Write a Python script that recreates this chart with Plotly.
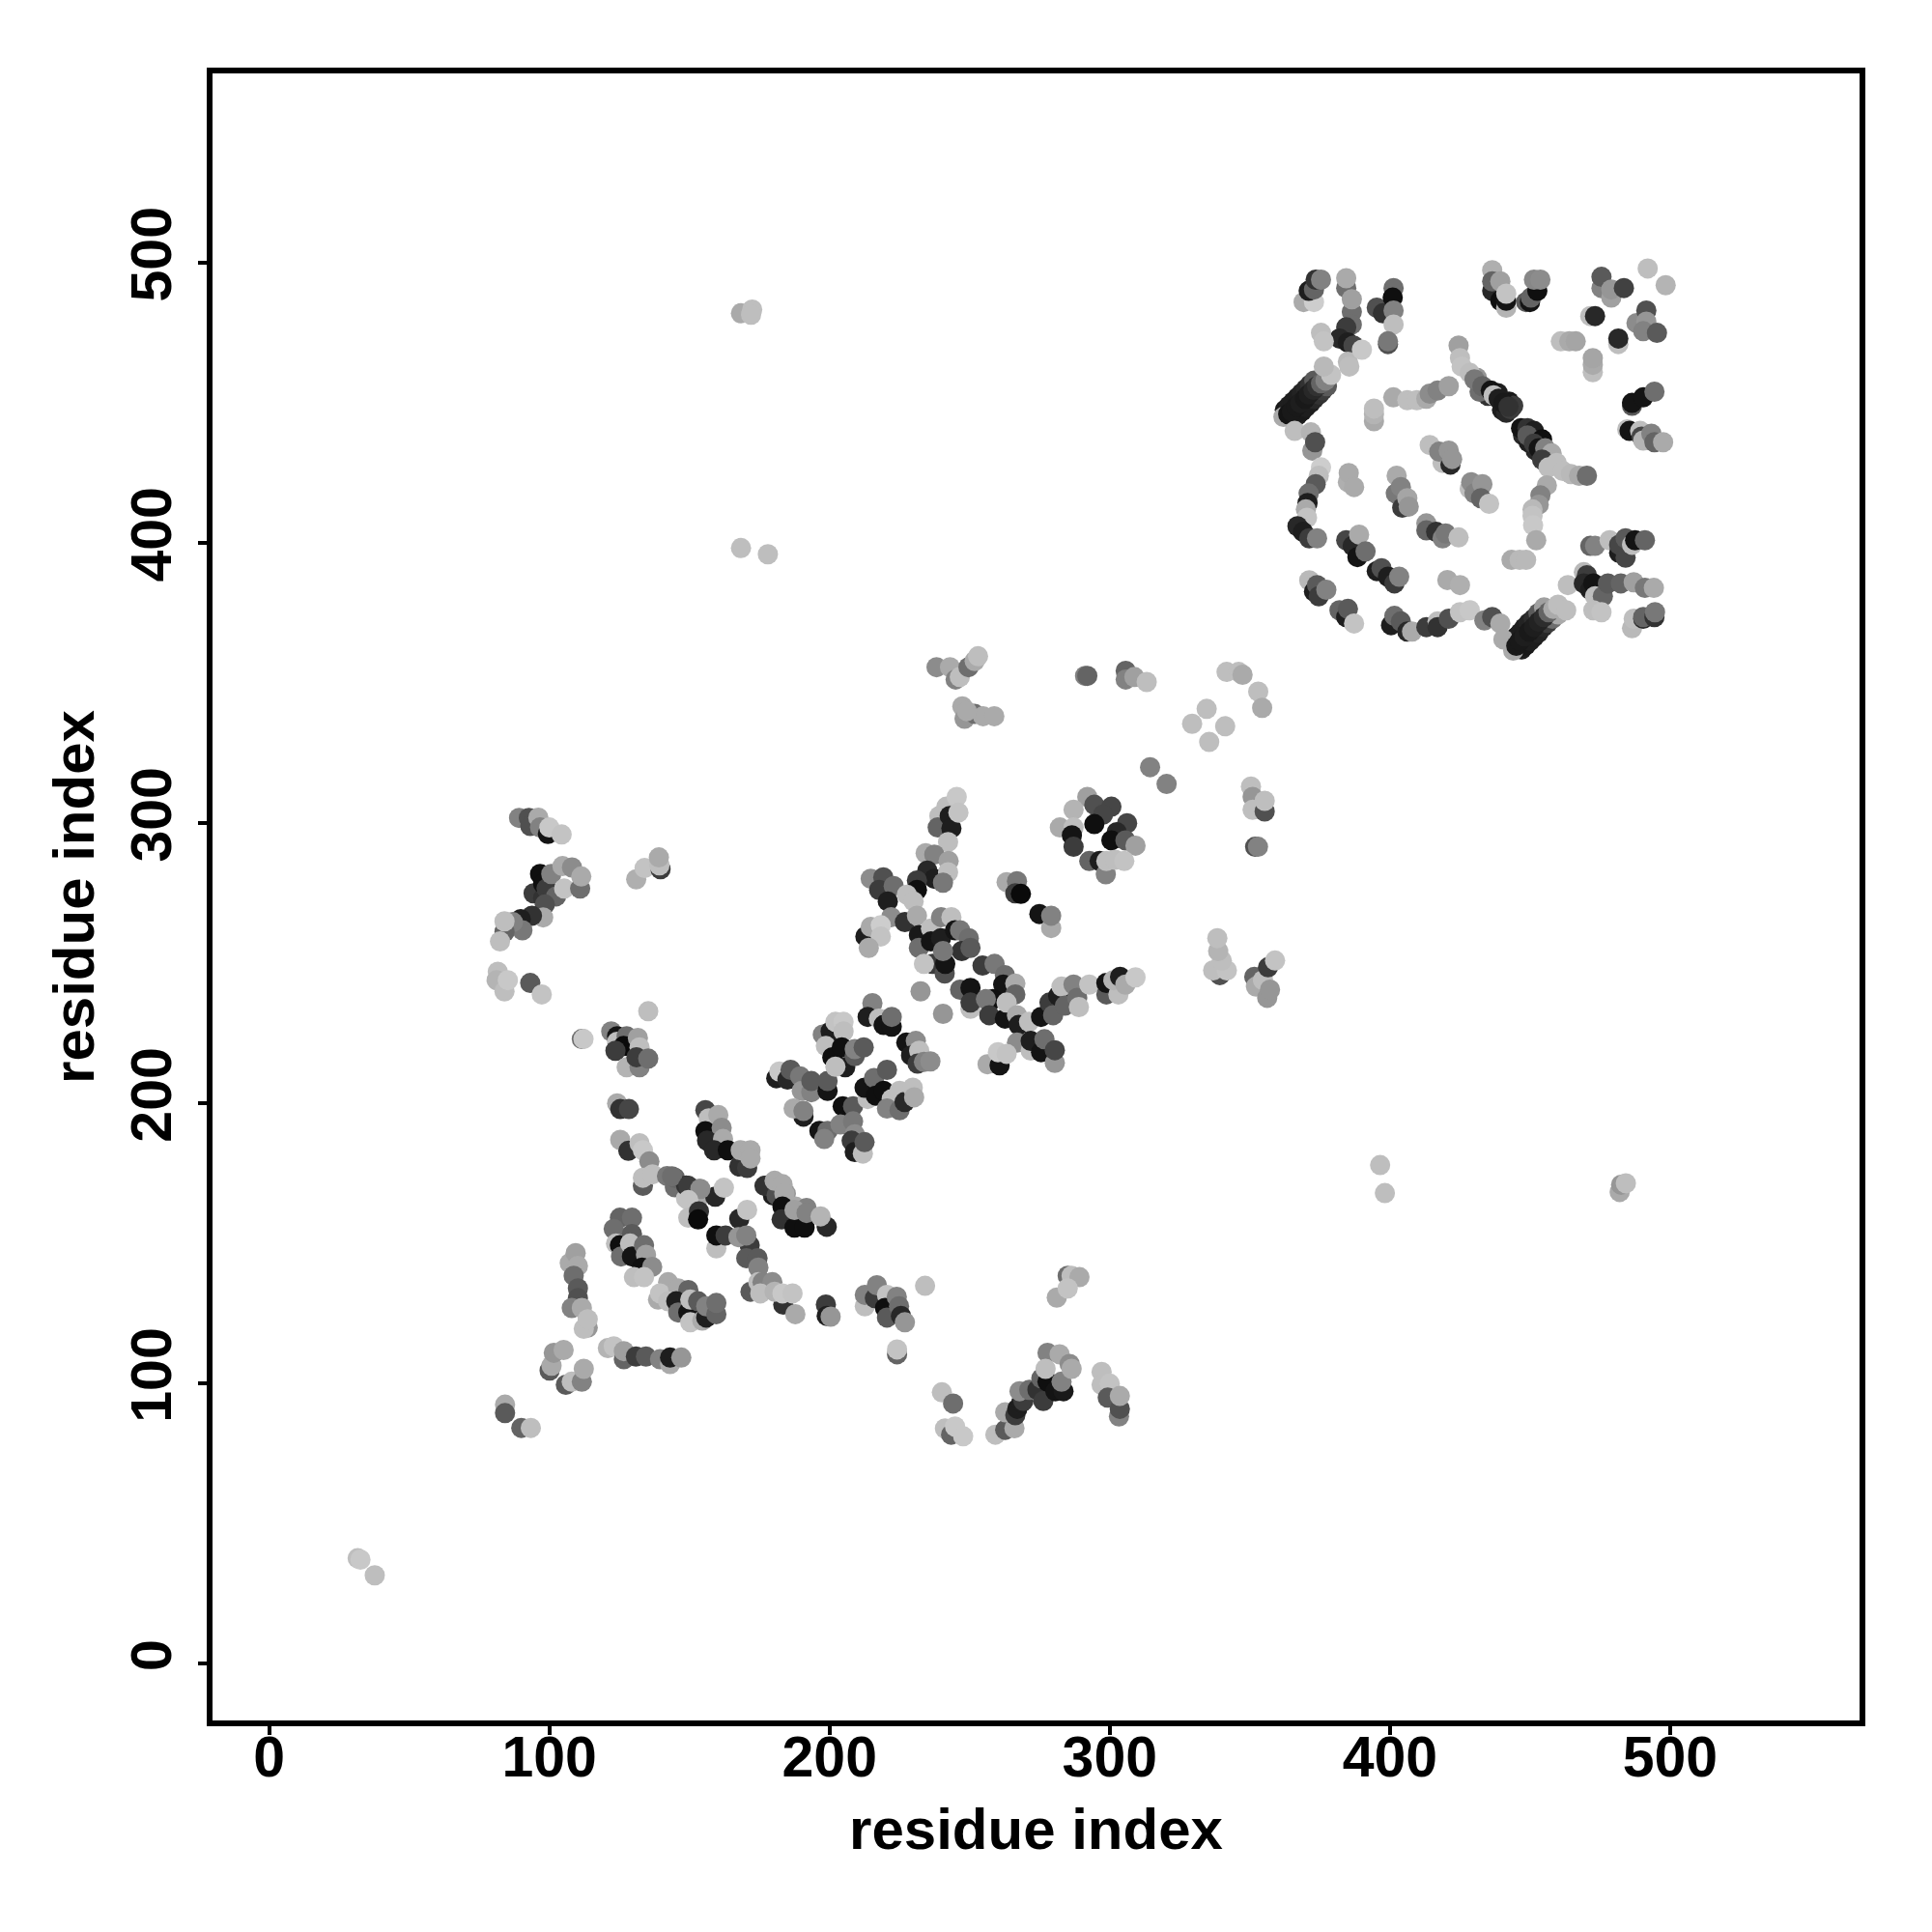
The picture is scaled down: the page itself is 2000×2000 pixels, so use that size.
import plotly.graph_objects as go

# contact points: (residue i, residue j, grey level)
isolated = [
(31.6,37.7,190),(32.6,37.2,200),(37.7,31.6,190),(168.4,398.2,190),(178,396,190),(168.4,482,170),(172.4,483.3,190),(172,481.5,190),
(396.5,178,190),(398.2,168,190),(482,168.4,170),(482.5,171,150),(484.2,171.5,190),
(84.2,92.5,170),(84.2,89.5,90),(90,84.2,100),(93.4,84.2,190),
(238.2,355.7,140),(243,355.7,170),(245,351.3,130),(246.5,352.2,190),(249.6,355.7,110),(251.8,357.9,170),(253,359.6,190),
(247.4,341.7,170),(248.2,337.3,150),(251.8,339,110),(254.8,338.2,170),(258.8,338.2,170),(249,340,170),
(291.2,352.6,130),(292,352.6,100),(305.7,354.4,100),(305.7,351.3,130),(308.8,352.2,160),(313.2,350.4,190),
(329.4,335.5,190),(334.6,340.8,190),(341.2,334.6,190),(335.5,329,190),(341.7,354,190),(346,354,190),(347.4,353,170),(353,347,190),(354.4,341.2,170),
]
dense_chains = [
(365.5,444,30),(367,445.5,30),(368.6,447,25),(370,448.5,30),(371.7,450,30),(373,451.5,40),(374.7,453,50),(376,454.5,60),(377.5,456,90),
(362.5,447.5,25),(364,449,30),(365.5,450.5,30),(367,452,30),(368.5,453.5,35),(370,455,40),(371.5,456.5,50),(373,458,90),
(447,362,30),(448.5,363.5,25),(450,365,30),(451.5,366.5,30),(453,368,35),(454.7,370,40),(456.3,371.5,60),(458,373,110),(460,374.5,170),
(443.5,365,30),(445,366.5,30),(446.5,368,30),(448,369.8,30),(449.5,371.5,35),(451.3,373,45),(453,375,90),(455,377,160),
(440,447.5,30),(441.5,446.5,40),(442.5,450.5,25),(443,447.8,60),(444,449,60),(438.5,453.5,30),(435,452.5,50),(432,454,110),(431,459,150),
(447.5,438.5,40),(449.5,436,30),(452,433,40),(455,431,120),
]
north_east = [
(369.2,486,170),(372.9,486,205),(371,490,30),(372.9,490.5,100),(373.5,494,50),(375.4,494,130),
(384.4,491,110),(384.4,494.5,170),(386.4,482.5,110),(386.4,478,110),(386.4,487,160),(384.4,477,60),(382,473,40),(385,471.6,30),(387,470.5,70),(385,464.7,185),(385.5,463,190),(375.4,475,190),(376.4,472,195),(390,469,200),
(395.3,484,80),(397.5,482,50),(401.3,491,110),(401,487.6,15),(401.3,483,130),(401.3,478,190),(399.3,471,80),(399.3,472,120),
(436.5,497.4,175),(436.5,490,40),(436.5,493.4,100),(439.4,486.5,15),(441.5,484,180),(441.5,486.5,20),(439.4,493.4,160),(441.5,489,195),
(448.6,486,90),(450,486,20),(450.3,487.6,100),(452.6,490,15),(451.4,494,135),(453.7,494,140),
(492,498,190),(498.4,492,180),(475.5,491,130),(475.5,495,90),(479,487.6,160),(479,490.5,150),(483.5,491,65),(471.5,481,190),(473.2,481,40),(481.5,471,190),(481.5,473,40),
(488,478.5,140),(491.5,483,80),(491.5,479,150),(490.4,475.6,130),(495.3,475,90),
(461,472,190),(464,472,170),(466.3,472,165),(472.4,461,190),(472.4,463.6,170),(472.4,466,165),
(486.4,449,90),(486.4,450,20),(490.4,452,20),(494.4,454,110),
(484.7,440.6,190),(485.5,440,20),(489.3,440,190),(489.8,438,70),(490.4,436.6,180),(493.3,439,130),(494.4,436,100),(497.5,436,170),
(362,445,170),(363.7,446,20),(365,447,25),(366.6,448.7,25),(368,450,30),(369.7,451.5,25),(371,453,30),(372.7,454.7,40),(374,456,50),(375.4,457,100),(377,458,130),(379,460,195),(376.4,463,185),
(366,440,190),(371.8,439.5,180),(372.3,433,150),(373.3,436,80),
(375.4,427,205),(374.6,424,190),(373.5,421,90),(371,417.7,110),(370.6,414.3,30),(370,412,170),(370.4,409,195),(367,406,40),(369,404,30),(371.2,401.7,60),(374,401.7,130),
(385,421.7,175),(385.3,425,170),(387.2,420,170),
(384.4,401,70),(386.7,399,40),(388.4,395,20),(389,403,170),(391.3,397,110),
(395.3,390,30),(397,391,80),(399.3,388,30),(401.6,385.6,60),(403.3,388,130),
(371.2,386.7,185),(372.9,382.7,30),(374,385,90),(374.6,381,60),(377.3,383.3,130),
(382,376,100),(384.4,373.6,30),(385,376.5,90),(387.2,371.3,195),
(394.3,443.5,170),(394.3,446,180),(394.3,448,190),
(401.2,452,170),(406.2,451,190),(409.6,451,190),(413,451.5,170),(414.2,453.3,140),(417,454.4,130),(421,456,160),
(424.5,470.5,160),(425,466,190),(425.6,463,195),(428.5,460.7,190),(430.2,458.4,120),(433,456,100),(436,454.4,20),(437,452.7,190),(438.8,451.5,30),(440.5,450,25),(442.3,448.7,50),
(414.2,435,190),(418.8,428.6,190),(421.6,428,40),(417.6,432.6,130),(421,433,150),(422.2,430,150),
(402.4,424,170),(402.1,417.7,120),(403.9,420,130),(404.4,412.6,60),(406.2,416,165),(406.7,413,150),
(413,407,150),(413,404.5,100),(416.5,404,50),(418.8,401.7,130),(419.9,403.4,120),(424.5,402,190),
(428.5,419.4,190),(429,421.7,140),(430.2,417.7,130),(433,421,150),(432.5,416,100),(435.4,414,195),
(420.5,386.8,170),(425,385,175),(443.4,394,170),(446.3,394,185),(448.6,394,185),
(446.8,441,20),(449.1,441,50),(451.4,440,30),(449.1,438.4,90),(454.3,437,15),(451.4,435.5,60),(453.1,433.8,20),(455.4,433.8,130),(457.7,432,170),(454.3,429.8,60),(459.5,428.6,190),(456.6,427,190),(461.7,425.7,190),(464.6,424.6,185),(467.5,424,170),(470.3,424,110),
(456,420.6,170),(453.7,417,130),(453.1,413.7,150),(450.9,412,185),(450.9,409.7,195),(451.1,406.3,200),(452.2,401,170),
(471.5,399,100),(473.2,399,130),(478.4,401,190),(481.8,396.5,30),(481.8,399.4,70),(484.1,394.8,70),(484.1,401.7,90),(486.4,399.4,190),(487.5,401,20),(491,401,100),
(463.5,385,190),(469.2,389.6,185),(470.3,388.5,60),(469.2,385.6,40),(471.5,383.3,30),(472.6,385.6,20),(473.2,381,190),(476,381,100),(477.8,385.6,90),(482.4,385.6,100),(487,386,160),(491,384,120),(494.2,384,170),(472.6,376,190),(475.5,375.3,195),
(486.4,369.6,185),(487,373,190),(490.4,373,40),(490.4,373.6,100),(494.4,373.6,50),(494.6,375.3,120),
(400.4,370.7,30),(401.6,374,110),(403.9,372,90),(406.2,368.4,40),(407.9,368.4,170),(413,370,60),(417,372,190),(417,370,50),(421,373,80),(425,375.3,195),(428.5,376,200),(433.7,372.4,130),(436.5,373.6,80),(439.4,371.3,170),(440.5,365.6,170),
(444,361.6,170),(445.1,363.3,25),(446.3,365,25),(448,366.7,30),(449.7,368.4,25),(451.4,370,30),(453.1,371.9,35),(454.9,373.6,45),(456.6,375.3,100),(458.3,376.5,170),(460,378,190),(462.9,376,190),
]
west_side = [
(89.2,301.9,130),(92.7,301.9,80),(93.2,299,80),(96.1,302,170),(96.7,298.5,130),(99.5,296.2,20),(100,298.5,200),(104.4,296,195),
(131,280,175),(134,284,195),(139.7,283.6,60),(139.3,285,190),(139.1,287.8,170),
(94.4,275,60),(97.8,273.3,50),(96.7,281.9,15),(97.8,278.4,15),(99,276.7,60),(102.4,273.9,100),(100.7,281.9,130),(104.7,284.7,170),(108.1,284.2,140),(105.3,276.7,195),(111,276.7,110),(111.4,281,170),
(98.4,271,80),(97.8,266.4,170),(93.8,267,50),(89.8,265.8,30),(90.4,261.8,120),(87,264.7,130),(84,261.2,100),(84,265,190),(82.4,257.8,190),
(81.6,247,190),(81.2,244,180),(84,240,190),(85.2,244,200),(93.2,243,90),(97.3,238.9,195),
(135.3,232.9,190),(111.6,223,110),(112.2,223,200),
(122.1,225.7,130),(124.2,224,20),(124.2,222,190),(127.6,224,110),(126.5,220.5,10),(123.6,218.8,60),(131.6,223.4,160),(132.2,220,190),(127.6,212.9,180),(132.2,212.9,130),(131.1,216.5,60),(135.3,216,110),
(124.2,200,170),(125.3,198,50),(128.4,198,70),
(125.3,187,170),(128.2,183.1,50),(133.4,170.6,90),(132.2,185.8,190),(133.4,183.3,200),(135.7,179.3,140),(133.4,173.5,190),(136.8,174.7,190),
(142,174.1,120),(144.8,170.1,110),(144.8,173.5,100),(148.8,166.1,195),(148.8,170.7,50),(153.4,169.5,150),(153,166,170),(159.2,166.7,40),(162.3,169.9,195),
(155.7,197.6,70),(156.9,194.7,190),(160.3,195.9,170),(155.7,190.1,15),(161.5,191.3,140),(156.3,186.7,40),(162,187.3,170),(158.8,183.3,40),(163.7,183.3,15),(167.8,177.5,50),(170.6,177,60),(168.3,183.3,170),(171.8,183.3,170),(171.8,180.4,170),
(179.8,167.2,30),(177.5,170.7,60),(180.4,171.8,170),(183.2,170.7,170),(184.4,167.8,150),(187.8,163.2,170),(191.8,162.7,130),
]
central = [
(181,209,30),(182.1,211.4,200),(185,208.5,40),(186.1,212,90),(189.5,209.7,120),(190.1,204.5,150),(193.5,204,130),(193.5,208,90),(199.3,204.5,20),(199.3,208,90),
(190.7,195.3,30),(187.2,198.2,170),(190.7,197.3,130),(196.4,190.2,20),(199.3,190.2,110),(198.1,187.3,130),
(204.7,199,15),(208.4,199,90),(203.9,192.5,130),(208.4,193.6,120),(209,189,140),(207.9,186.7,60),(209,182.7,30),(211.9,182.1,190),(212.5,186.2,90),
(197.6,224.6,130),(200.4,225.7,30),(202.1,229.1,195),(205,229.1,200),(205,225.7,190),(198.7,220.5,190),(201,216.5,15),(204.4,220,15),(205.6,212.9,30),(202.1,213.1,190),(209,216.9,90),(209,219.4,130),(212.2,220,90),
(215.3,235.8,130),(213.6,230.9,30),(217.6,230.3,190),(219.3,228,20),(222.2,227.4,20),(222.2,230.9,110),
(227.4,221.7,20),(230.8,222.3,140),(229.1,217.1,30),(232,218.8,190),(231.4,214.2,60),(233.7,214.8,130),(236,215,140),
(213.6,201.6,190),(212.5,205.6,20),(215.9,209.1,110),(216.5,202.8,15),(219.3,204.5,15),(220.5,212,90),(222.2,201.6,190),(225,204.5,190),(220.5,198.2,130),(225,197.6,110),(226.8,200.5,40),(229.7,205.6,190),(230.2,202.2,170),
(239.2,302.6,190),(238.6,298.5,100),(241.7,305.9,190),(242.9,302.6,30),(243.5,298.2,30),(245.4,309.4,200),(246,303.8,195),(242.3,293.3,190),
(234.3,289.3,170),(237.4,288.8,130),(242.5,286.5,160),(234.9,283.1,40),(237.4,280.2,30),(242.3,282.5,190),(240.5,278.8,120),
(231.2,279.6,60),(231.2,276.2,15),(214.7,280.2,140),(219.2,280.7,80),(217.7,276.2,60),(222.9,277.6,110),(220.8,272.1,30),(227.6,274.5,190),(230,272.1,190),(222,266.5,140),(226.9,264.7,50),
(212.8,259.6,30),(214.7,263,170),(218.3,263.6,205),(218.3,259.6,195),(214,255.5,170),
(231.2,267,170),(231.9,260.1,25),(231.9,255.5,110),(236.2,262.4,190),(236.2,257.8,20),(239.8,266.5,130),(243.5,266.5,190),(239.8,259,30),(244.8,261.8,20),(246.6,261.8,120),(249.7,259,110),(247.2,254.4,50),(250.3,255.5,90),
(236.8,249.8,60),(233.7,249.8,195),(241.1,246.4,80),(241.3,249.8,20),(240.5,254.4,120),
(254.6,249.2,60),(258.9,249.8,120),(262.6,245.8,110),(262,242.4,20),(266.3,242.8,170),(266.3,238.9,100),(258.3,237.2,15),
(246.6,240.6,100),(250.3,241.2,20),(250.3,233.8,190),(250.3,236,60),(255.8,237.2,120),(257,231.5,60),(262.6,230.3,20),(263.2,236,190),
(232.5,240,150),(240.5,232,150),
(266.9,231.5,170),(267.5,228,30),(271.2,229.1,190),(275.5,230.9,20),(278.5,236,60),(279.8,231.5,100),(281.6,238.4,30),(282.8,241.7,190),(284,234.9,100),(287.1,242.4,130),(288.4,237.7,110),(289,234.4,190),(292.7,242.4,195),
(298.8,238.9,90),(298.8,243,20),(303.1,238.9,190),(301.3,244,180),(303.7,245.2,30),(305.6,242.4,170),(309.2,245,200),
(266.9,221.7,140),(271.8,218.9,190),(271.8,222.3,30),(275.5,218.3,20),(276.7,222.9,110),(280.4,214.5,150),(280.4,219,70),
(256.4,214,170),(260.7,213.6,20),(260.1,218.3,200),(263.2,217.7,195),
(263.2,279,170),(266.9,279.3,120),(266.3,275,60),(268.3,274.8,10),(274.9,267.6,20),(279.1,262.6,170),(279.1,267,130),
(292,309.4,160),(294.5,306.6,80),(300.6,305.9,70),(297.6,303.1,70),(287.1,304.8,180),(294.5,299.7,15),(282.2,298.5,170),(287.1,298.5,190),(286.5,295.7,20),(287.1,291.6,60),
(306.2,300,70),(302.5,296.8,40),(300.6,293.9,15),(305.6,293.9,90),(309.2,292,160),
(292.7,286.5,100),(296.4,286.5,30),(298.6,281.8,130),(298.8,286.5,190),(301.9,287,190),(305.2,286.5,195),
(314.4,320,130),(320.3,314,130),
(350.4,313.1,190),(351,309.4,150),(351,304.8,190),(355.3,304.2,80),(355.3,308,190),(351.9,291.6,80),(352.9,291.6,130),
(339.3,245.8,80),(336.9,247.5,190),(341.8,247.5,195),(340,251,190),(338.7,254.4,180),(338.4,259,190),
(351.6,245.2,100),(352.2,241.7,170),(354.7,244,190),(356.2,237.7,150),(357.2,240.6,150),(356.5,248.6,60),(359,251,195),
]
south_west = [
(143.8,174,110),(149.6,170.6,60),(153.9,169.5,140),(149.6,165.5,195),
(149.6,159.2,190),(153.4,161.5,50),(153.1,158.6,10),(167.8,158.8,40),(170.6,162,195),
(159.6,148.3,190),(159.6,152.9,15),(162.9,152.9,60),(171.5,149.4,60),(167.5,152.3,150),(170.3,152.9,130),(170.3,144.8,90),(174.3,144.8,90),(174.6,141.4,130),
(176.8,170.6,50),(181.1,167.2,80),(180.4,172.4,170),(183.2,171.2,170),(183.9,167.8,170),(183.2,163.2,15),(182.9,158.6,50),(187.5,155.7,15),(187.5,162,160),(191.1,155.7,15),(191.8,160.9,130),(199,156,40),(196.8,159.7,180),
(125.2,159.2,100),(129.5,159.2,110),(123,155.2,110),(123.8,150,190),(125.2,149.4,15),(129.5,153.4,90),(125.6,145.4,110),(128.8,150,190),(129.5,145.4,20),(133.8,149.4,110),(134.5,146,160),(133.1,141.4,15),(136.7,141.7,140),(130.2,138,190),(133.8,138,195),
(107.3,143,170),(109.4,146.6,160),(110.2,142,170),(108.7,138.5,110),(110.2,134,90),(110.2,130.5,80),(108,127,130),(111.6,127,170),(113.7,120,150),(112.3,119.6,190),(113.7,123,190),
(100.1,104.7,90),(100.8,106.4,170),(101.6,111,150),(105.1,112,170),(105.9,99.6,90),(108,100.7,190),(111.6,100.7,130),(112.3,105.3,170),
(120.9,112.7,180),(123,113.3,195),(126.6,108.7,100),(126.6,111.6,160),(130.9,109.7,60),(134.5,109.7,90),(139.5,108.7,130),(143.1,107,170),(143.1,109.3,30),(147.1,109.3,150),
(142.4,136.2,170),(138.8,130,170),(139.5,132.2,195),(146,134,170),(149.6,133.4,100),(142.4,129.4,190),(145.3,129.4,30),(146,125.4,110),(149.6,125.4,20),(150.3,130,190),(153.1,129.4,90),(150.3,121.9,195),(154.6,122.5,170),(156,123.6,30),(156,127.6,130),(159.6,124.8,100),(159.6,128.8,110),
(171.8,132.8,90),(174.6,136.2,190),(176.1,136.2,130),(179.6,136.2,140),(175.3,132.2,190),(183.5,128.2,50),(180.4,132.8,180),(183.2,132.2,200),(186.8,132.2,195),(187.8,124.8,170),
(198.7,128.2,60),(199,124.2,30),(200.4,123.9,150),
(212.6,127.6,190),(212.6,131.7,130),(216.2,130.5,60),(216.9,135.1,130),(220.5,131.7,195),(219.8,127,15),(220.5,123.6,90),(224,131,130),(224.8,127.6,110),(225.5,124.2,40),(226.9,121.9,150),(234.1,134.9,190),
(224.1,110.5,100),(224.1,112.2,195),
(240.1,96.9,190),(244.1,92.9,110),(241.2,84,190),(243.4,81.8,100),(244.8,84.7,200),(247.7,81.2,200),
(259.2,81.8,190),(262.7,83.5,90),(266,84.1,170),(262.7,89.8,170),(266.3,88.7,60),(267,91,30),(268.5,93.3,30),(269.2,93.8,60),(267.8,97.3,140),(271.3,97.8,110),
(274.2,97.8,50),(276.3,93.8,60),(275.6,101.9,100),(277.8,100.7,15),(280.6,97.3,20),(283.5,97.3,25),(277.8,111,130),(277.1,105.3,190),(282.8,100.7,130),(282.1,110.5,170),(285.7,107,140),(286.4,105.3,170),
(297.1,104.2,190),(297.1,99.6,190),(300,100,195),(299.3,95,90),(303.3,88.3,130),(303.6,91,80),(303.6,95.6,170),
(281.1,130.7,170),(285,138.5,110),(286.4,138.5,190),(289.2,138,170),(285,134,195),
]
tick_values = [0, 100, 200, 300, 400, 500]
tick_labels = ["0", "100", "200", "300", "400", "500"]
axis_title = "residue index"

points = isolated + west_side + central + south_west + dense_chains + north_east
residue_i = [p[0] for p in points]
residue_j = [p[1] for p in points]
grey = [f"rgb({p[2]},{p[2]},{p[2]})" for p in points]

fig = go.Figure(go.Scatter(
    x=residue_i, y=residue_j, mode="markers",
    marker=dict(size=21, color=grey, line=dict(width=0)),
    hoverinfo="skip", showlegend=False,
))

TICK_FONT = dict(family="Liberation Sans", size=59, color="black", weight="bold")
TITLE_FONT = dict(family="Liberation Sans", size=60, color="black", weight="bold")
axis_common = dict(
    range=[-20.2, 567.6], tickvals=tick_values, ticktext=tick_labels,
    showgrid=False, zeroline=False, showline=True, mirror=True,
    linecolor="black", linewidth=5.5, ticks="outside", ticklen=9,
    tickwidth=4, tickcolor="black", tickfont=TICK_FONT,
)
fig.update_layout(
    width=2000, height=2000, autosize=False,
    paper_bgcolor="white", plot_bgcolor="white",
    margin=dict(l=211.5, r=83, t=67.5, b=227, pad=0),
    xaxis=dict(axis_common, ticklabelstandoff=-28, title=dict(text=axis_title, font=TITLE_FONT, standoff=23)),
    yaxis=dict(axis_common, tickangle=-90, ticklabelstandoff=5, title=dict(text=axis_title, font=TITLE_FONT, standoff=9)),
)
fig.write_html("out.html")
